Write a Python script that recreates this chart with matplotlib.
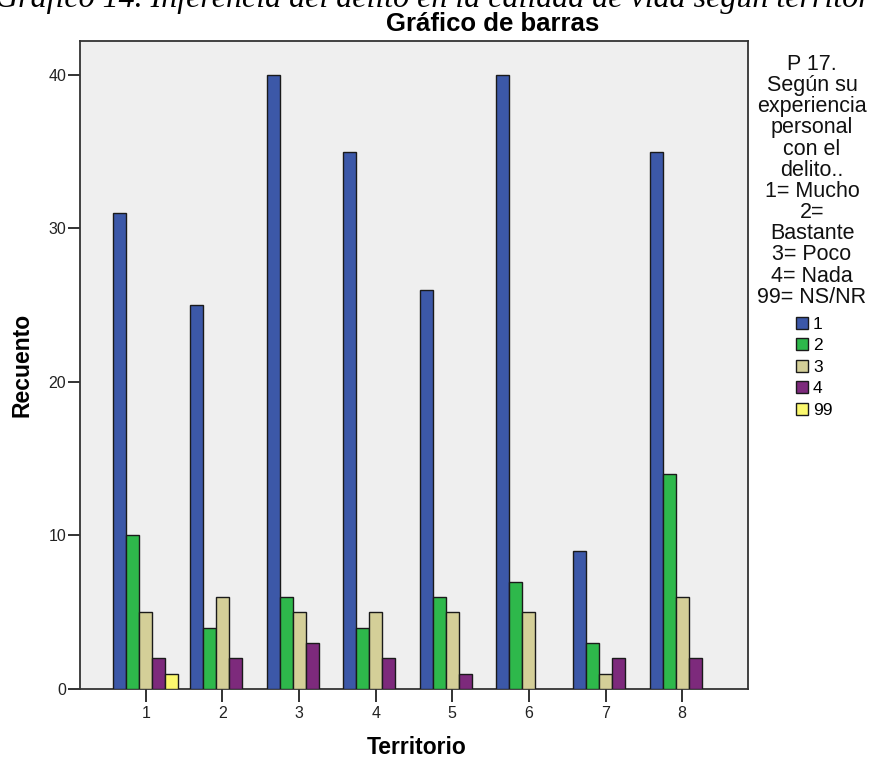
import matplotlib
matplotlib.use("Agg")
import matplotlib.pyplot as plt
import numpy as np
from matplotlib.patches import Patch

# Counts per territory for each answer to P 17
territorios = ["1", "2", "3", "4", "5", "6", "7", "8"]
respuestas = ["1", "2", "3", "4", "99"]
mucho = [31, 25, 40, 35, 26, 40, 9, 35]
bastante = [10, 4, 6, 4, 6, 7, 3, 14]
poco = [5, 6, 5, 5, 5, 5, 1, 6]
nada = [2, 2, 3, 2, 1, 0, 2, 2]
ns_nr = [1, 0, 0, 0, 0, 0, 0, 0]
series = [mucho, bastante, poco, nada, ns_nr]
colores = ["#3C58A8", "#2EB84B", "#D4CF98", "#7D2A7C", "#FBF86E"]
yticks = [0, 10, 20, 30, 40]

W, H = 871, 758
fig = plt.figure(figsize=(W / 100, H / 100), dpi=100)
fig.patch.set_facecolor("white")

ax = fig.add_axes([80 / W, 1 - 689 / H, (748 - 80) / W, (689 - 41) / H])
ax.set_facecolor("#EFEFEF")

x = np.arange(1, len(territorios) + 1)
bw = 0.17
for i, (vals, col) in enumerate(zip(series, colores)):
    offs = (i - 2) * bw
    xs = [xi + offs for xi, v in zip(x, vals) if v > 0]
    vs = [v for v in vals if v > 0]
    ax.bar(xs, vs, width=bw, color=col, edgecolor="#1a1a1a", linewidth=1.0, zorder=3)

ax.set_xlim(0.14, 8.86)
ax.set_ylim(0, 42.2)
ax.set_xticks(x)
ax.set_xticklabels(territorios)
ax.set_yticks(yticks)
ax.set_yticklabels([str(t) for t in yticks])
ax.tick_params(axis="both", direction="out", length=9, width=1.3, colors="#222222",
               labelsize=11.5, labelcolor="#222222")
ax.tick_params(axis="y", pad=1)
ax.tick_params(axis="x", pad=3)
for s in ax.spines.values():
    s.set_color("#333333")
    s.set_linewidth(1.3)

ax.set_xlabel("Territorio", fontsize=16.5, fontweight="bold", family="Liberation Sans", va="center")
ax.xaxis.set_label_coords((417 - 80) / 668, (689 - 747) / 648)
ax.set_ylabel("Recuento", fontsize=16.5, fontweight="bold", family="Liberation Sans", va="center")
ax.yaxis.set_label_coords((22 - 80) / 668, (689 - 365) / 648)
for lbl in ax.get_xticklabels() + ax.get_yticklabels():
    lbl.set_family("Liberation Sans")

fig.text(493 / W, 1 - 31 / H, "Gráfico de barras", ha="center", va="baseline",
         fontsize=18.5, fontweight="bold", family="Liberation Sans")

fig.text(-5 / W, 1 - 7 / H,
         "Gráfico 14. Inferencia del delito en la calidad de vida según territorio",
         ha="left", va="baseline", fontsize=23, style="italic", family="Liberation Serif")

leyenda_titulo = ("P 17.\nSegún su\nexperiencia\npersonal\ncon el\ndelito..\n1= Mucho\n2=\n"
                  "Bastante\n3= Poco\n4= Nada\n99= NS/NR")
fig.text(812 / W, 1 - 54 / H, leyenda_titulo, ha="center", va="top", fontsize=15.5,
         family="Liberation Sans", linespacing=1.01, color="#111111")

handles = [Patch(facecolor=c, edgecolor="#1a1a1a", linewidth=1.0) for c in colores]
fig.legend(handles, respuestas, loc="upper left", bbox_to_anchor=(787 / W, 1 - 308 / H),
           frameon=False, handlelength=0.69, handleheight=0.69,
           handletextpad=0.3, labelspacing=0.37, borderpad=0,
           prop={"family": "Liberation Sans", "size": 12.5})

fig.savefig("out.png", dpi=100)
